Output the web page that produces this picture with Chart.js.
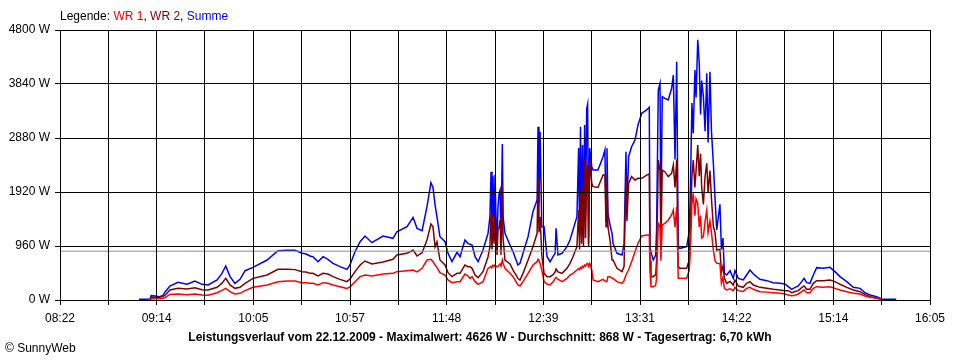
<!DOCTYPE html>
<html lang="de">
<head>
    <meta charset="UTF-8">
    <title>Leistungsverlauf 22.12.2009</title>
    <script src="https://cdn.jsdelivr.net/npm/chart.js@4.4.1/dist/chart.umd.min.js"></script>
    <style>
        body {
            margin: 0;
            background: #ffffff;
            font-family: 'Liberation Sans', Arial, sans-serif;
        }

        .wrap {
            position: relative;
            width: 960px;
            height: 360px;
        }

        .legend {
            position: absolute;
            left: 60px;
            top: 9px;
            font-size: 12px;
            line-height: 14px;
            color: #000;
        }

        .title {
            position: absolute;
            left: 0;
            width: 960px;
            top: 330px;
            text-align: center;
            font-size: 12px;
            font-weight: bold;
            line-height: 14px;
        }

        .copy {
            position: absolute;
            left: 5px;
            top: 341px;
            font-size: 12px;
            line-height: 14px;
        }
    </style>
</head>
<body>
<div class="wrap">
    <canvas id="chart" width="960" height="360"></canvas>
    <div class="legend">Legende: <span style="color:#ff0000">WR 1</span>, <span style="color:#800000">WR 2</span>, <span style="color:#0000ff">Summe</span></div>
    <div class="title">Leistungsverlauf vom 22.12.2009 - Maximalwert: 4626 W - Durchschnitt: 868 W - Tagesertrag: 6,70 kWh</div>
    <div class="copy">&copy; SunnyWeb</div>
</div>

<script>
// Uhrzeit in Minuten seit Mitternacht
const minutes = [
    544, 547.2, 550, 550.5, 552.6, 555, 556.8, 558, 560.5, 564.8,
    569.6, 573.8, 577.6, 580.8, 585.6, 588.2, 590.2, 592.5, 595.1, 597.8,
    600.5, 604.7, 612.2, 618, 622.8, 627.1, 630.8, 633, 635, 636.6,
    639.3, 642, 644.6, 647.3, 651, 654.7, 656.3, 659, 661.7, 664.3,
    668, 673.9, 679.2, 681.3, 686.7, 689.9, 692, 694.7, 697.3, 699.4,
    700.5, 701.6, 702.6, 704.2, 706.9, 708.5, 710.6, 713.3, 714.9, 717.5,
    719.1, 720.2, 721.3, 722.9, 724.5, 727.1, 729.8, 730.8, 731.4, 731.9,
    732.4, 733, 733.5, 734.1, 734.6, 735.1, 735.7, 736.2, 736.7, 737.4,
    737.8, 738.8, 741.5, 743.1, 745.7, 746.8, 748.4, 751.1, 753.7, 755.9,
    756.4, 756.9, 757.5, 758.4, 759.6, 761.2, 762.8, 764.4, 765.5, 766,
    767, 769.2, 771.8, 773.4, 775, 777.1, 778, 778.5, 779, 779.6,
    780.1, 780.6, 781.2, 781.7, 782.3, 782.8, 783.3, 783.9, 785, 785.7,
    788.3, 791, 792, 792.6, 793.1, 793.6, 794.7, 795.8, 796.3, 798.4,
    801.1, 802.2, 803.2, 803.7, 804.6, 806.2, 808, 809.6, 811.6, 814.2,
    815.6, 816, 816.5, 817.7, 819, 819.5, 820.4, 821.3, 821.8, 822.5,
    823.9, 825.7, 827.5, 828.4, 829.3, 830.2, 831, 831.9, 835.5, 836.9,
    837.5, 838.3, 839, 839.9, 840.5, 841.4, 842.2, 842.9, 843.5, 844.4,
    845.3, 846.2, 846.9, 847.9, 848.7, 849.7, 850.6, 851.5, 853.2, 854,
    854.8, 855.6, 856.8, 858.6, 860.3, 861.2, 863, 865.6, 867.4, 869.2,
    871, 874.5, 878.1, 881.6, 885.2, 887.8, 889.6, 891.4, 893.2, 894.9,
    896.7, 898, 899.4, 901.1, 902.9, 904.7, 908.2, 911.8, 914.4, 917.1,
    920.7, 924.2, 927.8, 930.4, 933.1, 936.6, 939.3, 940, 947
];

const summe = [
    12, 15, 18, 77, 70, 60, 80, 148, 249, 314,
    279, 338, 279, 267, 356, 474, 604, 415, 296, 367,
    521, 581, 711, 877, 883, 883, 830, 818, 782, 770,
    681, 770, 723, 652, 593, 545, 622, 859, 1037, 1138,
    1019, 1138, 1096, 1214, 1304, 1470, 1274, 1232, 1659, 2086,
    2003, 1689, 1481, 1126, 1037, 830, 681, 848, 770, 1067,
    1007, 990, 978, 770, 681, 889, 1185, 1481, 2281, 1200,
    2200, 1300, 2222, 1400, 1067, 1659, 1900, 1956, 1067, 2773,
    1481, 1185, 978, 859, 622, 652, 830, 1126, 1570, 1778,
    3081, 1724, 2993, 1304, 1304, 770, 681, 770, 830, 1274,
    800, 830, 948, 1067, 1244, 1481, 2700, 1200, 3081, 1300,
    2756, 1100, 3111, 1500, 3400, 3484, 1000, 2700, 2370, 2311,
    2311, 2548, 2667, 1400, 2696, 1541, 1333, 1185, 1007, 830,
    800, 1000, 2637, 1600, 2548, 2726, 2844, 3111, 3319, 3378,
    3425, 889, 850, 711, 800, 1244, 3733, 3852, 1400, 3615,
    3585, 3556, 3763, 4000, 2500, 4237, 948, 919, 948, 1214,
    2000, 3500, 2963, 4089, 3600, 4626, 4207, 3300, 3900, 3615,
    3000, 4030, 2800, 4059, 3000, 2430, 1800, 1244, 1700, 900,
    1100, 474, 444, 521, 385, 521, 385, 356, 444, 533,
    462, 367, 344, 308, 296, 284, 237, 190, 225, 249,
    326, 385, 308, 296, 444, 575, 563, 581, 504, 415,
    326, 225, 207, 130, 89, 59, 18, 12, 12
];

const wr2 = [
    null, null, 10, 47, 45, 50, 60, 89, 178, 207,
    196, 219, 184, 178, 225, 300, 385, 267, 207, 225,
    296, 385, 444, 545, 545, 540, 504, 498, 474, 474,
    427, 474, 462, 415, 367, 326, 370, 504, 622, 693,
    640, 676, 723, 800, 830, 889, 782, 841, 1067, 1351,
    1300, 948, 1037, 711, 622, 486, 415, 474, 474, 622,
    593, 593, 563, 444, 397, 504, 770, 948, 1541, 900,
    1400, 1000, 1511, 1100, 800, 1250, 1300, 1422, 800, 2044,
    1100, 711, 640, 533, 385, 356, 474, 711, 948, 1185,
    2163, 1200, 1481, 800, 474, 415, 415, 450, 500, 551,
    500, 474, 563, 652, 770, 948, 1600, 900, 1900, 1000,
    2000, 950, 2489, 1100, 2300, 2400, 950, 2489, 2074, 2015,
    2000, 2222, 2222, 1304, 2100, 1304, 1067, 711, 711, 563,
    504, 600, 2222, 1400, 2074, 2193, 2133, 2163, 2163, 2220,
    2240, 700, 415, 415, 450, 700, 2489, 2300, 1000, 2311,
    2281, 2193, 2250, 2400, 2000, 2500, 593, 563, 563, 711,
    1400, 2200, 2489, 2000, 2300, 2756, 2200, 2600, 2000, 1700,
    2200, 2430, 1900, 2300, 1800, 1311, 1200, 889, 900, 500,
    600, 385, 296, 330, 267, 356, 249, 225, 296, 326,
    267, 225, 207, 190, 178, 166, 166, 130, 150, 166,
    219, 249, 190, 190, 296, 344, 344, 356, 326, 279,
    225, 178, 148, 100, 59, 36, 10, null, null
];

const wr1 = [
    null, null, 5, 18, 20, 25, 30, 47, 100, 107,
    95, 107, 89, 83, 130, 170, 207, 148, 107, 119,
    166, 225, 267, 326, 338, 338, 308, 308, 296, 296,
    267, 308, 296, 267, 237, 207, 230, 326, 415, 444,
    427, 462, 474, 504, 521, 533, 500, 563, 711, 723,
    681, 622, 580, 486, 444, 356, 308, 326, 326, 462,
    427, 385, 415, 326, 279, 326, 563, 580, 600, 590,
    620, 600, 622, 600, 590, 600, 620, 640, 600, 711,
    650, 563, 474, 415, 267, 249, 326, 474, 622, 681,
    723, 700, 650, 533, 326, 284, 267, 326, 380, 403,
    370, 326, 385, 444, 474, 533, 560, 540, 580, 560,
    600, 580, 620, 600, 640, 650, 600, 650, 533, 356,
    326, 367, 340, 330, 340, 415, 415, 385, 385, 326,
    296, 350, 444, 480, 533, 681, 859, 1007, 1138, 1156,
    1156, 500, 237, 237, 260, 400, 1363, 1300, 700, 1333,
    1363, 1422, 1511, 1600, 1300, 1659, 385, 385, 385, 533,
    900, 1700, 1896, 1500, 1800, 1719, 1300, 1500, 1100, 1126,
    1400, 1600, 1200, 1400, 1200, 889, 700, 652, 650, 300,
    400, 207, 178, 200, 166, 225, 166, 150, 207, 225,
    190, 148, 140, 130, 119, 107, 89, 77, 85, 107,
    148, 178, 130, 130, 207, 237, 225, 237, 207, 178,
    148, 119, 107, 71, 47, 30, 8, null, null
];

const timeLabels = ['08:22', '09:14', '10:05', '10:57', '11:48', '12:39', '13:31', '14:22', '15:14', '16:05'];
const startMin = 502;   // 08:22
const endMin = 965;     // 16:05
const durchschnitt = 868;

const toPoints = vals => minutes.map((m, i) => ({ x: m, y: vals[i] }));

const ctx = document.getElementById('chart').getContext('2d');
const chart = new Chart(ctx, {
    type: 'line',
    data: {
        datasets: [
            {
                label: 'Durchschnitt',
                data: [{ x: startMin, y: durchschnitt }, { x: endMin, y: durchschnitt }],
                borderColor: '#909090',
                borderWidth: 1,
                pointRadius: 0
            },
            {
                label: 'WR 1',
                data: toPoints(wr1),
                borderColor: '#ff0000',
                borderWidth: 1.5,
                pointRadius: 0,
                tension: 0
            },
            {
                label: 'WR 2',
                data: toPoints(wr2),
                borderColor: '#800000',
                borderWidth: 1.5,
                pointRadius: 0,
                tension: 0
            },
            {
                label: 'Summe',
                data: toPoints(summe),
                borderColor: '#0000ff',
                borderWidth: 1.5,
                pointRadius: 0,
                tension: 0
            }
        ]
    },
    options: {
        responsive: false,
        animation: false,
        layout: { padding: { top: 30, right: 30, left: 0, bottom: 0 } },
        plugins: {
            legend: { display: false },
            tooltip: { enabled: false }
        },
        scales: {
            x: {
                type: 'linear',
                min: startMin,
                max: endMin,
                afterBuildTicks: axis => {
                    axis.ticks = Array.from({ length: 19 }, (_, i) => ({ value: startMin + i * (endMin - startMin) / 18 }));
                },
                afterFit: scale => { scale.height = 60; },
                ticks: {
                    autoSkip: false,
                    maxRotation: 0,
                    padding: 6,
                    color: '#000',
                    font: { family: 'Liberation Sans', size: 12 },
                    callback: (v, i) => (i % 2 === 0 ? timeLabels[i / 2] : '')
                },
                grid: { color: '#000', lineWidth: 1, tickLength: 5, tickColor: '#000', z: 1 },
                border: { color: '#000', z: 1 }
            },
            y: {
                min: 0,
                max: 4800,
                afterFit: scale => { scale.width = 60; },
                ticks: {
                    stepSize: 960,
                    padding: 5,
                    color: '#000',
                    font: { family: 'Liberation Sans', size: 12 },
                    callback: v => v + ' W'
                },
                grid: { color: '#000', lineWidth: 1, tickLength: 5, tickColor: '#000', z: 1 },
                border: { color: '#000', z: 1 }
            }
        }
    }
});
</script>
</body>
</html>
